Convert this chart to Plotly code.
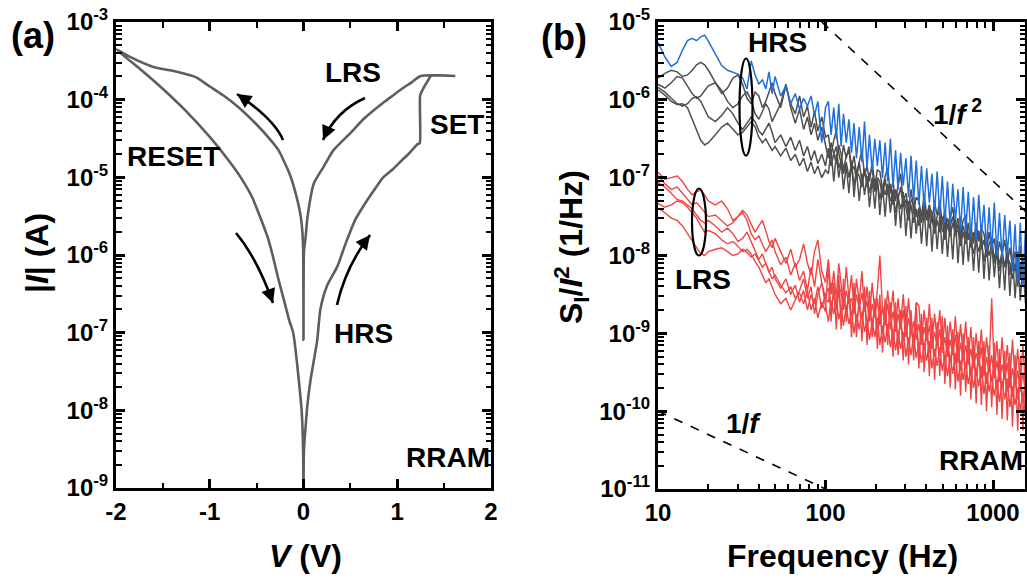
import plotly.graph_objects as go

# ---------------- Panel (a): I-V sweep (one loop, in measurement order) ----------------
iv_voltage = [0.0, 0.003, 0.01, 0.02, 0.04, 0.075, 0.146, 0.18, 0.25, 0.36, 0.45, 0.55, 0.65, 0.75, 0.85, 0.95, 1.05, 1.12, 1.18, 1.22, 1.24,
              1.245, 1.28, 1.33, 1.36, 1.62,
              1.25, 1.15, 1.05, 0.95, 0.85, 0.65, 0.5, 0.32, 0.217, 0.11, 0.043, 0.02, 0.005, 0.0,
              -0.003, -0.011, -0.03, -0.085, -0.15, -0.267, -0.35, -0.5, -0.7, -0.85, -1.0, -1.15, -1.35, -1.6, -1.85, -2.0,
              -1.75, -1.52, -1.25, -1.0, -0.8, -0.67, -0.55, -0.45, -0.38, -0.33, -0.27, -0.2, -0.15, -0.11, -0.085, -0.05, -0.02, -0.01, -0.003, 0.0]
iv_log10_current = [-9.0, -8.6, -8.4, -8.25, -7.95, -7.61, -7.1, -6.7, -6.4, -6.15, -5.85, -5.55, -5.35, -5.17, -5.0, -4.9, -4.78, -4.7, -4.62, -4.57, -4.56,
                    -3.94, -3.85, -3.75, -3.695, -3.695,
                    -3.695, -3.78, -3.86, -3.95, -4.04, -4.24, -4.43, -4.65, -4.86, -5.08, -5.51, -5.8, -5.95, -7.09,
                    -5.95, -5.72, -5.5, -5.2, -4.95, -4.65, -4.52, -4.32, -4.09, -3.95, -3.83, -3.71, -3.64, -3.58, -3.45, -3.35,
                    -3.6, -3.84, -4.15, -4.48, -4.78, -5.0, -5.25, -5.55, -5.78, -6.0, -6.3, -6.62, -6.85, -7.0, -7.22, -7.61, -8.0, -8.25, -8.6, -9.0]
iv_current = [10 ** v for v in iv_log10_current]

iv_xticks = [-2, -1, 0, 1, 2]
iv_xminor = [-1.5, -0.5, 0.5, 1.5]
iv_yexp = [-9, -8, -7, -6, -5, -4, -3]

# ---------------- Panel (b): normalized noise spectra (log10 of S_I/I^2) ----------------
freq = [10, 11, 12, 13, 14, 15, 16, 17, 18, 19, 20,
        22, 24, 26, 28, 30, 32, 34, 36, 38, 40, 42, 44, 46, 48, 50,
        54, 58, 62, 66, 70, 74, 78, 82, 86, 90, 95, 100,
        104, 108, 112, 116, 120, 124, 128, 133, 138, 143, 148, 153, 159, 165, 171,
        177, 183, 190, 197, 204, 211, 219, 227, 235, 244, 253, 262, 271, 281, 291,
        302, 313, 324, 336, 348, 361, 374, 388, 402, 417, 432, 448, 464, 481, 498,
        516, 535, 555, 575, 596, 618, 640, 663, 687, 712, 738, 765, 793, 822, 852,
        883, 915, 948, 982, 1018, 1055, 1093, 1133, 1174, 1217, 1261, 1307, 1355, 1404, 1455,
        1508, 1563, 1600]

hrs_blue = [-5.26, -5.45, -5.57, -5.52, -5.36, -5.24, -5.21, -5.24, -5.19, -5.17, -5.25,
            -5.42, -5.56, -5.62, -5.65, -5.67, -5.72, -5.86, -5.50, -5.68, -5.80, -5.74, -5.86, -5.64, -5.92, -5.70,
            -5.95, -5.82, -6.05, -5.92, -6.12, -5.98, -6.08, -5.95, -6.20, -6.02, -6.55, -6.10,
            -6.02, -6.45, -6.10, -6.50, -6.05, -6.60, -6.18, -6.55, -6.25, -6.68, -6.30, -6.75, -6.35, -6.80, -6.28,
            -6.88, -6.45, -6.92, -6.50, -6.85, -6.52, -7.00, -6.55, -7.05, -6.50, -7.12, -6.65, -7.15, -6.68, -7.10,
            -6.75, -7.25, -6.72, -7.28, -6.78, -7.35, -6.85, -7.38, -6.88, -7.32, -6.95, -7.45, -6.92, -7.48, -6.98,
            -7.58, -7.05, -7.62, -7.08, -7.55, -7.15, -7.68, -7.12, -7.70, -7.18, -7.78, -7.25, -7.80, -7.22, -7.75,
            -7.35, -7.92, -7.38, -7.95, -7.32, -8.00, -7.45, -8.05, -7.48, -7.98, -7.55, -8.20, -7.60, -8.35, -7.58,
            -8.40, -7.65, -8.50]

hrs_gray_1 = [-5.72, -5.66, -5.62, -5.64, -5.70, -5.68, -5.62, -5.55, -5.52, -5.55, -5.62,
              -5.78, -5.92, -5.85, -5.72, -5.68, -5.80, -5.98, -6.05, -5.90, -5.95, -6.10, -6.02, -5.90, -5.78, -5.92,
              -6.10, -5.82, -6.05, -6.18, -5.95, -6.22, -6.08, -6.35, -6.15, -6.40, -6.22, -6.48,
              -6.45, -6.70, -6.52, -6.40, -6.68, -6.82, -6.58, -6.75, -6.60, -6.88, -6.72, -6.95, -6.80, -6.65, -6.98,
              -6.85, -7.05, -6.80, -7.10, -6.90, -6.92, -7.15, -6.98, -6.88, -7.20, -7.05, -7.30, -7.10, -6.95, -7.32,
              -7.20, -7.40, -7.15, -7.42, -7.25, -7.30, -7.50, -7.22, -7.48, -7.35, -7.55, -7.32, -7.48, -7.30, -7.60,
              -7.42, -7.65, -7.50, -7.38, -7.68, -7.52, -7.75, -7.55, -7.48, -7.80, -7.62, -7.85, -7.58, -7.82, -7.65,
              -7.72, -7.95, -7.70, -7.90, -7.78, -8.05, -7.82, -7.98, -7.80, -8.10, -7.90, -8.15, -7.95, -8.22, -7.88,
              -8.20, -7.95, -8.25]

hrs_gray_2 = [-5.80, -5.85, -5.78, -5.70, -5.72, -5.82, -5.92, -5.98, -5.95, -5.88, -5.82,
              -5.78, -5.88, -6.02, -6.10, -6.05, -5.95, -5.90, -6.00, -6.18, -6.25, -6.15, -6.05, -6.12, -6.28, -6.20,
              -6.05, -5.80, -6.10, -6.30, -6.12, -6.38, -6.22, -6.45, -6.30, -6.52, -6.35, -6.58,
              -6.75, -6.55, -6.68, -6.82, -6.58, -6.70, -6.90, -6.72, -6.65, -6.92, -6.85, -7.02, -6.80, -7.05, -6.88,
              -7.12, -6.95, -6.90, -7.15, -7.00, -7.05, -7.25, -7.02, -7.22, -7.08, -7.35, -7.15, -7.28, -7.12, -7.38,
              -7.28, -7.48, -7.30, -7.25, -7.50, -7.40, -7.58, -7.35, -7.55, -7.38, -7.45, -7.65, -7.50, -7.42, -7.68,
              -7.72, -7.52, -7.62, -7.50, -7.75, -7.60, -7.82, -7.62, -7.78, -7.58, -7.90, -7.70, -7.85, -7.68, -7.92,
              -7.80, -8.02, -7.85, -7.78, -8.05, -7.90, -8.12, -7.95, -8.15, -7.92, -8.25, -8.00, -8.18, -7.95, -8.30,
              -8.05, -8.32, -8.20]

hrs_gray_3 = [-5.84, -5.90, -5.98, -6.05, -6.08, -6.05, -5.98, -5.96, -6.02, -6.12, -6.22,
              -6.28, -6.20, -6.10, -6.18, -6.30, -6.38, -6.30, -6.22, -6.28, -6.40, -6.45, -6.38, -6.30, -6.42, -6.55,
              -6.45, -6.60, -6.48, -6.65, -6.52, -6.72, -6.60, -6.78, -6.65, -6.82, -6.70, -6.85,
              -6.62, -6.85, -6.70, -6.60, -6.88, -6.78, -6.95, -6.80, -7.00, -6.82, -7.10, -6.92, -6.98, -7.12, -6.90,
              -7.02, -7.20, -7.00, -7.18, -7.05, -7.28, -7.10, -7.22, -7.08, -7.30, -7.22, -7.45, -7.25, -7.40, -7.28,
              -7.38, -7.55, -7.35, -7.58, -7.40, -7.62, -7.45, -7.55, -7.42, -7.65, -7.52, -7.72, -7.55, -7.70, -7.50,
              -7.80, -7.60, -7.75, -7.58, -7.70, -7.68, -7.88, -7.70, -7.85, -7.72, -7.78, -7.98, -7.82, -7.95, -7.80,
              -8.08, -7.88, -8.00, -7.85, -8.10, -7.98, -8.20, -8.00, -8.15, -8.02, -8.10, -8.30, -8.12, -8.40, -8.08,
              -8.35, -8.15, -8.30]

hrs_gray_4 = [-5.87, -5.94, -6.02, -6.06, -6.05, -6.10, -6.25, -6.40, -6.52, -6.58, -6.55,
              -6.45, -6.35, -6.30, -6.38, -6.45, -6.42, -6.35, -6.28, -6.35, -6.48, -6.55, -6.50, -6.58, -6.65, -6.60,
              -6.72, -6.62, -6.78, -6.70, -6.85, -6.75, -6.92, -6.80, -6.95, -6.85, -7.00, -6.90,
              -6.95, -6.65, -7.05, -6.70, -7.00, -6.80, -7.15, -6.85, -7.20, -6.78, -7.25, -6.90, -7.30, -6.95, -7.22,
              -6.98, -7.38, -7.02, -7.40, -7.00, -7.48, -7.10, -7.50, -7.08, -7.45, -7.15, -7.62, -7.20, -7.65, -7.18,
              -7.75, -7.30, -7.78, -7.32, -7.72, -7.38, -7.85, -7.40, -7.88, -7.35, -7.95, -7.45, -7.92, -7.48, -7.98,
              -7.52, -8.02, -7.55, -8.05, -7.50, -8.10, -7.60, -8.12, -7.62, -8.08, -7.70, -8.20, -7.72, -8.22, -7.68,
              -8.30, -7.80, -8.32, -7.82, -8.28, -7.90, -8.42, -7.92, -8.45, -7.88, -8.52, -8.00, -8.55, -8.02, -8.58,
              -8.10, -8.62, -8.40]

lrs_red_1 = [-6.93, -7.02, -7.00, -6.98, -7.05, -7.15, -7.22, -7.18, -7.16, -7.22, -7.30,
             -7.35, -7.30, -7.40, -7.55, -7.50, -7.42, -7.48, -7.60, -7.70, -7.62, -7.55, -7.68, -7.82, -7.90, -7.78,
             -7.95, -8.10, -7.92, -8.15, -8.05, -7.85, -8.10, -8.25, -7.95, -7.80, -8.20, -8.35,
             -8.05, -8.50, -8.20, -8.55, -8.10, -8.40, -8.65, -8.15, -8.55, -8.25, -8.70, -8.30, -8.60, -8.20, -8.72,
             -8.40, -8.80, -8.35, -8.75, -8.45, -8.00, -8.70, -8.90, -8.45, -8.80, -8.45, -8.95, -8.55, -8.90, -8.50,
             -9.00, -8.55, -8.95, -9.05, -8.60, -8.65, -9.10, -8.70, -9.08, -8.62, -9.15, -8.75, -9.10, -8.70, -9.20,
             -8.80, -9.25, -8.85, -9.22, -8.78, -9.30, -8.88, -9.28, -8.85, -9.35, -8.92, -9.40, -9.00, -9.38, -8.95,
             -9.45, -9.05, -9.40, -8.55, -9.50, -9.10, -9.55, -9.05, -9.58, -9.15, -9.62, -9.08, -9.60, -9.20, -9.68,
             -9.15, -9.70, -9.30]

lrs_red_2 = [-6.97, -7.08, -7.15, -7.12, -7.20, -7.28, -7.35, -7.32, -7.38, -7.45, -7.50,
             -7.48, -7.55, -7.62, -7.58, -7.50, -7.45, -7.55, -7.72, -7.80, -7.75, -7.85, -7.95, -7.88, -7.80, -7.95,
             -8.12, -8.02, -8.25, -8.10, -8.32, -8.20, -8.45, -8.15, -8.40, -8.05, -8.35, -8.55,
             -8.60, -8.35, -8.52, -8.65, -8.38, -8.48, -8.70, -8.45, -8.62, -8.55, -8.75, -8.50, -8.68, -8.48, -8.72,
             -8.58, -8.85, -8.62, -8.80, -8.55, -8.90, -8.65, -8.82, -8.62, -8.95, -8.72, -8.98, -8.75, -8.95, -8.70,
             -9.05, -8.80, -9.00, -8.85, -9.08, -8.88, -9.15, -8.92, -9.10, -8.90, -9.20, -8.98, -9.15, -8.95, -9.25,
             -9.05, -9.30, -9.08, -9.28, -9.02, -9.38, -9.12, -9.35, -9.15, -9.40, -9.20, -9.45, -9.25, -9.42, -9.18,
             -9.55, -9.30, -9.50, -9.28, -9.58, -9.35, -9.62, -9.40, -9.60, -9.38, -9.70, -9.45, -9.68, -9.48, -9.75,
             -9.50, -9.78, -9.60]

lrs_red_3 = [-7.06, -7.12, -7.20, -7.28, -7.30, -7.35, -7.40, -7.48, -7.55, -7.58, -7.55,
             -7.62, -7.70, -7.65, -7.72, -7.82, -7.78, -7.70, -7.82, -7.95, -8.05, -7.98, -8.10, -8.22, -8.15, -8.30,
             -8.42, -8.30, -8.50, -8.38, -8.60, -8.45, -8.70, -8.50, -8.62, -8.40, -8.68, -8.50,
             -8.42, -8.68, -8.50, -8.70, -8.45, -8.75, -8.55, -8.70, -8.50, -8.78, -8.60, -8.85, -8.65, -8.82, -8.58,
             -8.92, -8.70, -8.88, -8.65, -8.95, -8.75, -9.00, -8.78, -8.98, -8.72, -9.08, -8.82, -9.05, -8.85, -9.10,
             -8.90, -9.15, -8.95, -9.12, -8.88, -9.22, -8.98, -9.20, -8.95, -9.25, -9.05, -9.30, -9.10, -9.28, -9.02,
             -9.38, -9.12, -9.35, -9.15, -9.40, -9.20, -9.48, -9.25, -9.45, -9.18, -9.55, -9.30, -9.52, -9.28, -9.58,
             -9.35, -9.65, -9.40, -9.62, -9.38, -9.72, -9.45, -9.70, -9.48, -9.75, -9.50, -9.82, -9.55, -9.85, -9.52,
             -9.90, -9.60, -9.85]

lrs_red_4 = [-7.33, -7.38, -7.35, -7.30, -7.32, -7.38, -7.45, -7.52, -7.62, -7.70, -7.68,
             -7.72, -7.80, -7.85, -7.82, -7.88, -7.95, -7.92, -7.98, -8.08, -8.15, -8.25, -8.35, -8.30, -8.40, -8.50,
             -8.62, -8.55, -8.70, -8.58, -8.45, -8.30, -8.55, -8.40, -8.75, -8.50, -8.35, -8.65,
             -8.85, -8.58, -8.75, -8.55, -8.82, -8.68, -8.90, -8.65, -8.88, -8.72, -9.00, -8.75, -8.95, -8.72, -8.98,
             -8.82, -9.08, -8.85, -9.05, -8.80, -9.15, -8.90, -9.12, -8.88, -9.18, -8.95, -9.22, -9.00, -9.20, -8.98,
             -9.30, -9.05, -9.28, -9.02, -9.32, -9.12, -9.38, -9.15, -9.35, -9.10, -9.45, -9.20, -9.42, -9.18, -9.48,
             -9.28, -9.55, -9.30, -9.52, -9.25, -9.62, -9.35, -9.60, -9.38, -9.65, -9.45, -9.70, -9.48, -9.68, -9.42,
             -9.78, -9.50, -9.75, -9.55, -9.80, -9.60, -9.88, -9.62, -9.85, -9.58, -9.95, -9.68, -9.92, -9.70, -10.00,
             -9.75, -10.05, -9.90]

lrs_red_5 = [-7.39, -7.45, -7.52, -7.55, -7.62, -7.72, -7.82, -7.90, -7.98, -8.00, -7.95,
             -7.92, -7.90, -7.95, -8.00, -7.98, -7.92, -7.96, -8.02, -7.98, -8.06, -8.15, -8.10, -8.20, -8.30, -8.25,
             -8.38, -8.48, -8.40, -8.55, -8.48, -8.62, -8.45, -8.70, -8.55, -8.80, -8.60, -8.72,
             -8.10, -8.85, -8.35, -8.95, -8.25, -8.95, -8.30, -8.85, -8.45, -9.05, -8.35, -9.05, -8.50, -9.10, -8.40,
             -9.15, -8.45, -9.05, -8.55, -9.20, -8.50, -9.25, -8.55, -9.15, -8.60, -9.30, -8.60, -9.28, -8.70, -9.35,
             -8.65, -9.40, -8.70, -9.35, -8.62, -9.45, -8.75, -9.50, -8.80, -9.55, -8.80, -9.60, -8.85, -9.55, -8.78,
             -9.65, -8.90, -9.70, -8.95, -9.72, -8.98, -9.80, -9.00, -9.75, -9.05, -9.85, -9.05, -9.90, -9.10, -9.92,
             -9.10, -10.00, -9.15, -9.95, -9.12, -10.05, -9.20, -10.10, -9.22, -10.12, -9.25, -10.20, -9.28, -10.25, -9.30,
             -10.25, -9.32, -10.20]

# guide lines (end points)
guide_f2_freq = [95, 1600]
guide_f2_val = [1e-5, 3.53e-8]
guide_f1_freq = [10, 100]
guide_f1_val = [1e-10, 1e-11]

noise_xticks = [10, 100, 1000]
noise_yexp = [-11, -10, -9, -8, -7, -6, -5]

# ---------------- styling ----------------
FONT = "Liberation Sans, Arial, Helvetica, sans-serif"
W, H = 1027, 583
BLUE = "#1f6fdc"
GRAY = "#4f4f4f"
RED = "#f04545"
CURVE = "#5e5e5e"


def px(x):
    return x / W


def py(y):
    return 1 - y / H


def to_lin(lst):
    return [10 ** v for v in lst]


def log_minor(exps):
    return [k * 10.0 ** e for e in exps for k in range(2, 10)]


fig = go.Figure()

fig.add_trace(go.Scatter(x=iv_voltage, y=iv_current, mode="lines",
                         line=dict(color=CURVE, width=2.6, shape="spline", smoothing=0.6),
                         xaxis="x", yaxis="y", showlegend=False, hoverinfo="skip"))

for series in [hrs_gray_1, hrs_gray_2, hrs_gray_3, hrs_gray_4]:
    fig.add_trace(go.Scatter(x=freq, y=to_lin(series), mode="lines",
                             line=dict(color=GRAY, width=1.5), xaxis="x2", yaxis="y2",
                             showlegend=False, hoverinfo="skip"))
fig.add_trace(go.Scatter(x=freq, y=to_lin(hrs_blue), mode="lines",
                         line=dict(color=BLUE, width=1.5), xaxis="x2", yaxis="y2",
                         showlegend=False, hoverinfo="skip"))
for series in [lrs_red_1, lrs_red_2, lrs_red_3, lrs_red_4, lrs_red_5]:
    fig.add_trace(go.Scatter(x=freq, y=to_lin(series), mode="lines",
                             line=dict(color=RED, width=1.4), xaxis="x2", yaxis="y2",
                             showlegend=False, hoverinfo="skip"))

for gx, gy in [(guide_f2_freq, guide_f2_val), (guide_f1_freq, guide_f1_val)]:
    fig.add_trace(go.Scatter(x=gx, y=gy, mode="lines",
                             line=dict(color="black", width=1.6, dash="dash"),
                             xaxis="x2", yaxis="y2", showlegend=False, hoverinfo="skip"))

tickfont = dict(family=FONT, size=24, color="black", weight="bold")
axis_common = dict(showline=True, linewidth=3, linecolor="black", mirror="ticks",
                   ticks="inside", ticklen=9, tickwidth=2.5, tickcolor="black",
                   showgrid=False, zeroline=False, tickfont=tickfont, automargin=False)


def minor(vals):
    return dict(ticks="inside", ticklen=5.5, tickwidth=2, tickcolor="black",
                tickmode="array", tickvals=vals, showgrid=False)


fig.update_layout(
    width=W, height=H, autosize=False,
    margin=dict(l=0, r=0, t=0, b=0),
    paper_bgcolor="white", plot_bgcolor="white",
    xaxis=dict(domain=[px(116), px(491)], range=[-2, 2], anchor="y",
               tickvals=iv_xticks, ticktext=[str(v) for v in iv_xticks],
               minor=minor(iv_xminor), **axis_common),
    yaxis=dict(domain=[py(488), py(22)], type="log", range=[-9, -3], anchor="x",
               tickvals=[10 ** e for e in iv_yexp],
               ticktext=["10<sup>%d</sup>" % e for e in iv_yexp],
               minor=minor(log_minor(range(-9, -3))), **axis_common),
    xaxis2=dict(domain=[px(658), px(1025)], type="log", range=[1, 3.191], anchor="y2",
                tickvals=noise_xticks, ticktext=[str(v) for v in noise_xticks],
                minor=minor(log_minor([1, 2])), **axis_common),
    yaxis2=dict(domain=[py(489), py(22)], type="log", range=[-11, -5], anchor="x2",
                tickvals=[10 ** e for e in noise_yexp],
                ticktext=["10<sup>%d</sup>" % e for e in noise_yexp],
                minor=minor(log_minor(range(-11, -5))), **axis_common),
)


def label(text, x, y, size=28, angle=0):
    fig.add_annotation(text=text, x=px(x), y=py(y), xref="paper", yref="paper",
                       showarrow=False, textangle=angle, xanchor="center", yanchor="middle",
                       font=dict(family=FONT, size=size, color="black", weight="bold"))


# panel labels
label("(a)", 33, 36, size=36)
label("(b)", 564, 37, size=36)
# axis titles
label("<i>V</i> (V)", 305, 556, size=32)
label("|<i>I</i>| (A)", 37, 253, size=32, angle=-90)
label("Frequency (Hz)", 842, 556, size=32)
label("S<sub>I</sub>/<i>I</i><sup>2</sup> (1/Hz)", 572, 247, size=32, angle=-90)
# panel (a) texts
label("LRS", 353, 73)
label("SET", 457, 125)
label("RESET", 173, 157)
label("HRS", 363, 333)
label("RRAM", 448, 457)
# panel (b) texts
label("HRS", 777, 43)
label("1/<i>f</i><sup> 2</sup>", 957, 112)
label("LRS", 703, 280)
label("1/<i>f</i>", 743, 423)
label("RRAM", 981, 460)

# curved arrows in panel (a): (tail, control, head) in pixels
arrows = [((283, 140), (274, 119), (237, 94)),
          ((365, 98), (336, 111), (323, 140)),
          ((236, 233), (257, 258), (273, 303)),
          ((337, 305), (346, 266), (370, 235))]
for (t, c, h) in arrows:
    path = "M %.4f,%.4f Q %.4f,%.4f %.4f,%.4f" % (px(t[0]), py(t[1]), px(c[0]), py(c[1]), px(h[0]), py(h[1]))
    fig.add_shape(type="path", path=path, xref="paper", yref="paper",
                  line=dict(color="black", width=2.6))
    dx, dy = h[0] - c[0], h[1] - c[1]
    n = (dx * dx + dy * dy) ** 0.5
    fig.add_annotation(x=px(h[0]), y=py(h[1]), xref="paper", yref="paper", text="",
                       showarrow=True, arrowhead=2, arrowsize=1.1, arrowwidth=2.6, arrowcolor="black",
                       ax=-dx / n * 10, ay=-dy / n * 10)

# ellipses in panel (b)
for (cx, cy, w, h) in [(746, 107, 13, 97), (699, 222, 14, 67)]:
    fig.add_shape(type="circle", xref="paper", yref="paper",
                  x0=px(cx - w / 2), x1=px(cx + w / 2), y0=py(cy + h / 2), y1=py(cy - h / 2),
                  line=dict(color="black", width=2.2))

fig.write_html("out.html", config={"displayModeBar": False},
               post_script="document.body.style.margin='0';")
